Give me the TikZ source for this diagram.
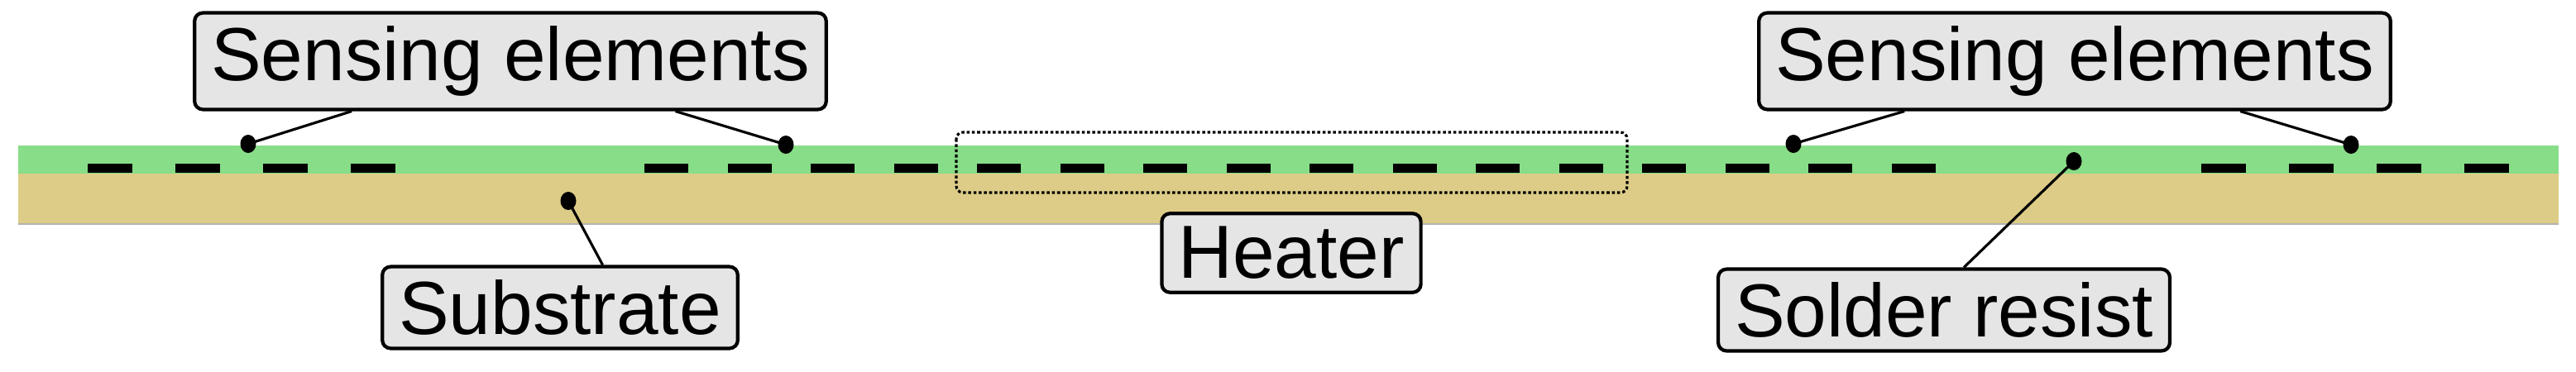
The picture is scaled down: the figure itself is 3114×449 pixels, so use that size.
\documentclass[tikz,border=0pt]{standalone}
\usepackage{fontspec}
\setmainfont{Liberation Sans}
\usetikzlibrary{positioning}
\definecolor{maskgreen}{RGB}{136,221,136}
\definecolor{boardtan}{RGB}{221,204,136}
\tikzset{
	callout/.style={draw, line width=1.2pt, fill=gray!20, rounded corners=1mm,
		inner xsep=2mm, inner ysep=1.6mm, font=\fontsize{25.9}{31}\selectfont},
	lead/.style={line width=0.9pt},
	trace/.style={line width=1.15mm}
}

\begin{document}
\begin{tikzpicture}[x=0.1mm,y=-0.1mm]
	\useasboundingbox (0,0) rectangle (3114,449);
	%%%layers
	%substrate
	\fill[boardtan] (22,210) rectangle (3093,271);
	\draw[gray!60, line width=0.3pt] (22,271) -- (3093,271);
	%solder resist
	\fill[maskgreen] (22,176) rectangle (3093,210);
	%%%traces
	%left sensing
	\draw[trace, dash pattern=on 5.4mm off 5.2mm] (106,203.5) -- (478,203.5);
	%middle, heater in between
	\draw[trace, dash pattern=on 5.3mm off 4.75mm] (779,203.5) -- (2341,203.5);
	%right sensing
	\draw[trace, dash pattern=on 5.4mm off 5.2mm] (2661,203.5) -- (3034,203.5);
	%heater zone
	\draw[line width=0.9pt, dash pattern=on 1pt off 0.8pt, rounded corners=0.8mm] (1156,160) rectangle (1967,233);
	%%%labels
	\node[callout] at (617,74) (SE1){Sensing elements};
	\node[callout] at (2508,74) (SE2){Sensing elements};
	\node[callout] at (677,372) (Sub){Substrate};
	\node[callout] at (1561,306) (Heat){Heater};
	\node[callout] at (2350,375) (SR){Solder resist};
	%%%dots
	\coordinate (d1) at (300,174);
	\coordinate (d2) at (950,175);
	\coordinate (d3) at (2168,174);
	\coordinate (d4) at (2842,175);
	\coordinate (d5) at (687,243);
	\coordinate (d6) at (2507,195);
	\foreach \d in {d1,d2,d3,d4,d5,d6}
		\fill (\d) ellipse (0.95mm and 1.1mm);
	%%%leads
	\draw[lead] (d1) -- (SE1);
	\draw[lead] (d2) -- (SE1);
	\draw[lead] (d3) -- (SE2);
	\draw[lead] (d4) -- (SE2);
	\draw[lead] (d5) -- (Sub.45);
	\draw[lead] (d6) -- (SR.65);
\end{tikzpicture}
\end{document}
